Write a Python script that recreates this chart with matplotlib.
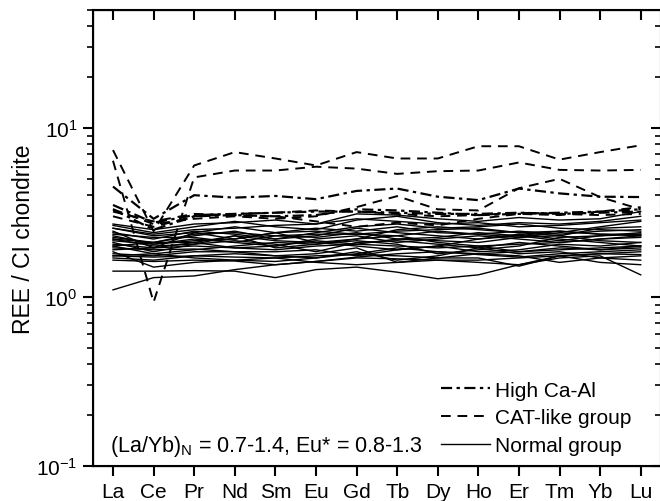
import matplotlib
matplotlib.use("Agg")
import matplotlib.pyplot as plt
from matplotlib.lines import Line2D
from matplotlib.ticker import LogLocator, NullFormatter

plt.rcParams['font.family'] = ['Liberation Sans', 'DejaVu Sans']
plt.rcParams['mathtext.default'] = 'regular'

elements = ["La", "Ce", "Pr", "Nd", "Sm", "Eu", "Gd", "Tb", "Dy", "Ho", "Er", "Tm", "Yb", "Lu"]

# chondrite-normalised REE
high_ca_al = [
    [4.5, 2.9, 4.0, 3.87, 3.96, 3.79, 4.24, 4.38, 3.92, 3.74, 4.38, 4.1, 3.92, 3.9],
    [3.5, 2.75, 3.05, 3.1, 3.15, 3.2, 3.2, 3.15, 3.1, 3.1, 3.15, 3.1, 3.15, 3.2],
    [3.3, 2.5, 3.0, 3.05, 3.0, 3.05, 3.3, 3.25, 3.15, 3.05, 3.1, 3.15, 3.2, 3.3],
]
cat_like = [
    [7.4, 2.45, 6.0, 7.2, 6.6, 6.0, 7.2, 6.6, 6.6, 7.8, 7.8, 6.5, 7.2, 7.9],
    [6.4, 0.93, 5.1, 5.6, 5.6, 5.9, 5.75, 5.35, 5.55, 5.6, 6.25, 5.65, 5.6, 5.65],
    [3.0, 2.6, 3.0, 3.1, 3.15, 3.25, 3.2, 3.1, 3.0, 3.05, 3.15, 3.1, 3.05, 3.1],
    [3.3, 2.7, 2.9, 3.0, 2.9, 3.0, 3.4, 3.95, 3.3, 3.25, 4.4, 5.0, 3.9, 3.3],
    [3.2, 2.8, 3.1, 3.05, 3.0, 2.8, 2.6, 2.75, 2.65, 2.9, 3.1, 3.05, 3.2, 3.4],
]
normal = [
    [1.10, 1.30, 1.33, 1.45, 1.55, 1.62, 1.72, 1.80, 1.85, 1.78, 1.72, 1.80, 1.85, 1.90],
    [1.42, 1.42, 1.43, 1.42, 1.30, 1.45, 1.50, 1.40, 1.28, 1.35, 1.55, 1.75, 1.60, 1.55],
    [1.65, 1.62, 1.65, 1.63, 1.55, 1.62, 1.70, 1.68, 1.65, 1.65, 1.70, 1.75, 1.80, 1.78],
    [1.75, 1.72, 1.75, 1.72, 1.70, 1.75, 1.78, 1.75, 1.70, 1.70, 1.52, 1.75, 1.80, 1.85],
    [1.85, 1.50, 1.60, 1.65, 1.62, 1.70, 1.80, 1.95, 1.85, 1.80, 1.75, 1.60, 1.70, 1.65],
    [1.95, 1.90, 1.92, 1.85, 1.75, 1.80, 1.95, 1.60, 1.65, 1.60, 1.55, 1.70, 1.75, 1.35],
    [2.00, 1.80, 1.90, 2.00, 2.10, 2.05, 2.20, 2.30, 2.10, 2.00, 2.05, 2.10, 2.20, 2.25],
    [2.05, 1.95, 2.00, 1.95, 1.90, 2.00, 2.05, 2.00, 1.95, 2.00, 1.85, 1.90, 1.95, 2.00],
    [2.10, 1.85, 2.05, 2.15, 2.05, 1.85, 2.10, 2.15, 2.05, 1.95, 2.10, 2.00, 1.90, 1.95],
    [2.15, 2.05, 2.20, 2.10, 2.30, 2.25, 2.40, 2.20, 2.25, 2.40, 2.30, 2.15, 2.30, 2.40],
    [2.20, 2.00, 2.05, 2.30, 2.15, 2.10, 2.00, 1.90, 2.00, 2.20, 2.35, 2.20, 2.10, 2.00],
    [2.25, 2.10, 2.30, 2.45, 2.20, 2.30, 2.55, 2.40, 2.30, 2.20, 2.30, 2.45, 2.35, 2.30],
    [2.30, 2.05, 2.15, 2.20, 2.40, 2.10, 2.20, 2.50, 2.60, 2.50, 2.40, 2.30, 2.55, 2.60],
    [2.40, 2.20, 2.45, 2.35, 2.20, 2.40, 2.60, 2.70, 2.55, 2.60, 2.70, 2.55, 2.50, 2.45],
    [2.45, 1.95, 2.40, 2.60, 2.40, 2.45, 2.35, 2.30, 2.45, 2.35, 2.25, 2.40, 2.60, 2.80],
    [2.55, 2.35, 2.50, 2.55, 2.65, 2.70, 2.90, 2.80, 2.70, 2.75, 2.60, 2.65, 2.75, 2.85],
    [2.65, 2.40, 2.60, 2.80, 2.60, 2.50, 2.85, 3.00, 2.75, 2.65, 2.75, 2.70, 2.80, 3.00],
    [2.70, 2.50, 2.70, 2.75, 2.85, 2.70, 3.10, 3.05, 2.90, 2.80, 2.95, 2.85, 2.90, 3.20],
    [1.80, 1.75, 1.85, 1.85, 1.85, 1.90, 1.75, 1.90, 2.00, 1.85, 1.90, 2.05, 2.00, 2.10],
    [1.90, 1.95, 2.10, 1.95, 2.00, 2.15, 2.05, 2.20, 2.15, 2.10, 2.25, 2.30, 2.15, 2.10],
    [2.35, 2.25, 2.25, 2.10, 2.00, 2.20, 2.30, 2.10, 2.20, 2.30, 2.20, 2.10, 2.20, 2.30],
    [2.00, 2.10, 2.10, 2.30, 1.95, 2.05, 2.15, 2.05, 1.80, 1.90, 2.00, 2.25, 2.30, 2.35],
    [1.70, 1.65, 1.75, 1.80, 1.75, 1.70, 1.85, 1.65, 1.75, 1.95, 1.80, 1.85, 1.70, 1.75],
    [2.55, 2.30, 2.40, 2.20, 2.40, 2.55, 2.45, 2.60, 2.40, 2.35, 2.45, 2.35, 2.45, 2.50],
    [2.20, 2.10, 2.35, 2.40, 2.30, 2.35, 2.35, 2.45, 2.50, 2.55, 2.40, 2.45, 2.35, 2.35],
    [1.75, 1.80, 1.70, 1.65, 1.70, 1.60, 1.55, 1.60, 1.70, 1.80, 1.85, 1.95, 1.90, 2.00],
]

x = list(range(len(elements)))

dash = (0, (5, 3.5))
dashdot = (0, (5, 2, 1.5, 2))

fig = plt.figure(figsize=(6.6, 5.02), dpi=100)
ax = fig.add_axes([92.7 / 660, 1 - 466.7 / 502, (661 - 92.7) / 660, (466.7 - 11) / 502])

for row in normal:
    ax.plot(x, row, color='black', lw=1.0, ls='-')
for row in cat_like:
    ax.plot(x, row, color='black', lw=1.4, ls=dash)
for row in high_ca_al:
    ax.plot(x, row, color='black', lw=1.6, ls=dashdot)

ax.set_yscale('log')
ax.set_ylim(0.1, 50)
ax.set_xlim(-0.5, 13.5)
ax.set_xticks(x)
ax.set_xticklabels(elements)
ax.set_ylabel("REE / CI chondrite", fontsize=16.5, labelpad=1)

ax.yaxis.set_major_locator(LogLocator(base=10, numticks=10))
ax.yaxis.set_minor_locator(LogLocator(base=10, subs=range(2, 10), numticks=20))
ax.yaxis.set_minor_formatter(NullFormatter())
ax.tick_params(axis='both', which='major', labelsize=15, direction='out', length=7, width=1.5)
ax.tick_params(axis='x', which='major', pad=5)
ax.tick_params(axis='y', which='major', pad=4)
ax.tick_params(axis='y', which='minor', direction='out', length=4, width=1.2)
ax.tick_params(axis='x', which='minor', bottom=False)
for s in ax.spines.values():
    s.set_linewidth(1.5)

# inward ticks on the right and top sides
axr = ax.twinx()
axr.set_yscale('log')
axr.set_ylim(ax.get_ylim())
axr.yaxis.set_major_locator(LogLocator(base=10, numticks=10))
axr.yaxis.set_minor_locator(LogLocator(base=10, subs=range(2, 10), numticks=20))
axr.tick_params(axis='y', which='major', direction='in', length=7, width=1.5, labelright=False)
axr.tick_params(axis='y', which='minor', direction='in', length=4, width=1.2)
axt = ax.twiny()
axt.set_xlim(ax.get_xlim())
axt.set_xticks(x)
axt.tick_params(axis='x', direction='in', length=7, width=1.5, labeltop=False)

handles = [
    Line2D([], [], color='black', lw=1.6, ls=dashdot),
    Line2D([], [], color='black', lw=1.4, ls=dash),
    Line2D([], [], color='black', lw=1.0, ls='-'),
]
ax.legend(handles, ["High Ca-Al", "CAT-like group", "Normal group"], loc='lower left',
          bbox_to_anchor=(0.613, 0.023), frameon=False, fontsize=15, handlelength=2.35,
          handletextpad=0.25, labelspacing=0.42, borderpad=0, borderaxespad=0)

ax.text(0.030, 0.032, "(La/Yb)$_N$ = 0.7-1.4, Eu* = 0.8-1.3", transform=ax.transAxes,
        fontsize=15.5, ha='left', va='baseline')

fig.savefig("out.png", dpi=100)
